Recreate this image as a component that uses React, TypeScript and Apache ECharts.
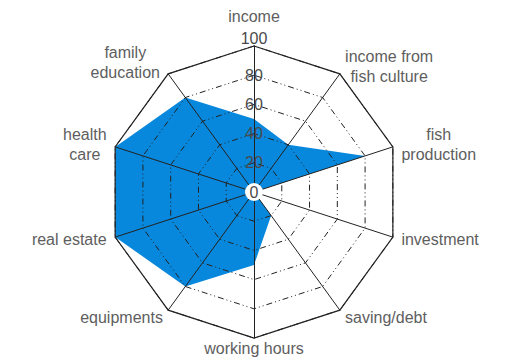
import React, { useEffect, useRef } from "react";
import * as echarts from "echarts";

const indicatorNames = [
  "income",
  "family\neducation",
  "health\ncare",
  "real estate",
  "equipments",
  "working hours",
  "saving/debt",
  "investment",
  "fish\nproduction",
  "income from\nfish culture",
];
const values = [50, 80, 100, 100, 80, 50, 20, 0, 80, 40];
const maxValue = 100;

const FONT = '"Liberation Sans", Arial, sans-serif';
const TEXT = "#5e5e5e";
const NUM = "#4a4a4a";
const LINE = "#222222";
const BLUE = "#0888dc";

const nameGaps: Record<number, number> = { 0: 20, 1: 14, 5: 0 };

export default function App() {
  const ref = useRef<HTMLDivElement>(null);
  useEffect(() => {
    document.body.style.margin = "0";
    if (!ref.current) return;
    const chart = echarts.init(ref.current, null, { renderer: "svg" });
    const indicator = indicatorNames.map((n, i) => {
      const name = n
        .split("\n")
        .map((l) => `{c|${l}}`)
        .join("\n");
      const base: any = { name, max: maxValue, min: 0 };
      if (nameGaps[i] !== undefined) base.nameGap = nameGaps[i];
      if (i === 0) {
        base.axisLabel = {
          show: true,
          margin: 0,
          align: "center",
          verticalAlign: "middle",
          fontFamily: FONT,
          fontSize: 16,
          color: NUM,
          formatter: (v: number) =>
            v === 0 ? `{z|0}` : v === 100 ? `{t|${v}}` : `{n|${v}}`,
          rich: {
            z: {
              backgroundColor: "#fff",
              borderRadius: 10,
              width: 14,
              height: 18,
              padding: [0, 2],
              align: "center",
              fontSize: 16,
              fontFamily: FONT,
              color: NUM,
            },
            t: { fontSize: 16, fontFamily: FONT, color: NUM, padding: [0, 0, 16, 0] },
            n: { fontSize: 16, fontFamily: FONT, color: NUM },
          },
        };
      } else {
        base.axisLabel = { show: false };
      }
      return base;
    });
    chart.setOption({
      animation: false,
      radar: [
        {
          center: [254, 192],
          radius: 146,
          startAngle: 90,
          shape: "polygon",
          splitNumber: 5,
          indicator,
          nameGap: 9,
          z: 10,
          axisName: {
            color: TEXT,
            fontFamily: FONT,
            fontSize: 16,
            rich: {
              c: { align: "center", color: TEXT, fontFamily: FONT, fontSize: 16, lineHeight: 20 },
            },
          },
          axisLine: { lineStyle: { color: LINE, width: 1 } },
          axisTick: { show: false },
          axisLabel: { show: false },
          splitLine: { lineStyle: { color: LINE, width: 1, type: [6, 3, 1, 3, 1, 3] } },
          splitArea: { show: false },
        },
        {
          center: [254, 192],
          radius: 146,
          startAngle: 90,
          shape: "polygon",
          splitNumber: 1,
          indicator: indicatorNames.map(() => ({ name: "", max: maxValue, min: 0 })),
          z: 11,
          axisName: { show: false },
          axisLine: { show: false },
          axisTick: { show: false },
          axisLabel: { show: false },
          splitLine: { lineStyle: { color: LINE, width: 1.2, type: "solid" } },
          splitArea: { show: false },
        },
      ],
      series: [
        {
          type: "radar",
          radarIndex: 0,
          z: 1,
          symbol: "none",
          lineStyle: { width: 0 },
          areaStyle: { color: BLUE, opacity: 1 },
          data: [{ value: values }],
        },
      ],
    });
    return () => chart.dispose();
  }, []);
  return <div ref={ref} style={{ width: 506, height: 360 }} />;
}
